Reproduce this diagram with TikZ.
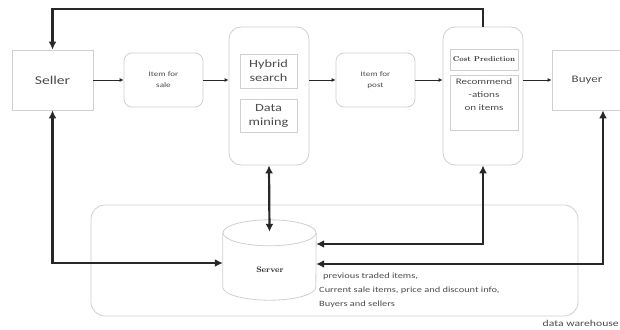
\documentclass[tikz,border=0pt]{standalone}
\usepackage{fontspec}
\newfontfamily\calib[FakeStretch=1.3]{Carlito}
\usepackage{tikz}
\usetikzlibrary{arrows.meta, calc, shapes.geometric}
\definecolor{boxGray}{RGB}{208,208,208}
\definecolor{lineDark}{RGB}{40,40,40}
\definecolor{textGray}{RGB}{75,75,75}

\begin{document}
\begin{tikzpicture}[x=1pt, y=-1pt,
		box/.style={draw=boxGray, thick, inner sep=0pt, align=center, text=textGray, font=\calib},
		panel/.style={box, rounded corners=10pt},
		rim/.style={draw=boxGray, thick},
		flow/.style={draw=lineDark, thick, -{Latex[length=4pt, width=4pt]}},
		feed/.style={draw=lineDark, line width=2.2pt, -{Latex[length=8pt, width=8pt]}},
		link/.style={draw=lineDark, line width=2.2pt, {Latex[length=8pt, width=8pt]}-{Latex[length=8pt, width=8pt]}},
	]
	\useasboundingbox (0,0) rectangle (620,329);
	
	\node[box, minimum width=81pt, minimum height=60pt, font=\calib\fontsize{12}{14}\selectfont] (seller) at (52.5,80) {Seller};
	\node[panel, rounded corners=8pt, minimum width=79pt, minimum height=54pt, font=\calib\fontsize{7}{11}\selectfont] (itemsale) at (163.5,80) {Item for\\sale};
	\node[panel, rounded corners=12pt, minimum width=80pt, minimum height=138pt] (hybridpanel) at (269,96) {};
	\node[box, minimum width=57pt, minimum height=34pt, font=\calib\fontsize{11}{14}\selectfont] (hybrid) at (268.5,71) {Hybrid\\search};
	\node[box, minimum width=57pt, minimum height=33pt, font=\calib\fontsize{11}{14}\selectfont] (mining) at (268.5,115.5) {Data\\mining};
	\node[panel, rounded corners=8pt, minimum width=79pt, minimum height=54pt, font=\calib\fontsize{7}{11}\selectfont] (itempost) at (375.5,80) {Item for\\post};
	\node[panel, rounded corners=12pt, minimum width=80pt, minimum height=138pt] (costpanel) at (483,96) {};
	\node[box, minimum width=68pt, minimum height=21pt, font=\bfseries\fontsize{7}{9}\selectfont, text=black!80] (cost) at (484,59.5) {Cost Prediction};
	\node[box, minimum width=68pt, minimum height=55pt, font=\calib\fontsize{8.5}{13}\selectfont] (recom) at (484,102.5) {Recommend\\-ations\\on items\\[2pt]~};
	\node[box, minimum width=70pt, minimum height=60pt, font=\calib\fontsize{10}{13}\selectfont] (buyer) at (587,80) {Buyer};
	
	\node[panel, rounded corners=14pt, minimum width=487pt, minimum height=111pt] (warehouse) at (334.5,260.5) {};
	\node[minimum width=93pt, minimum height=80pt, inner sep=0pt, fill=white] (server) at (269.5,260) {};
	\draw[rim, fill=white] ($(server.north west)+(0,13)$) -- ($(server.south west)+(0,-13)$)
		arc[start angle=180, end angle=360, x radius=46.5pt, y radius=13pt] -- ($(server.north east)+(0,13)$);
	\draw[rim] ($(server.north)+(0,13)$) ellipse [x radius=46.5pt, y radius=13pt];
	\node[text=black!85, font=\bfseries\fontsize{8}{10}\selectfont] (servername) at (270,270) {Server};
	\node[anchor=north west, align=left, inner sep=0pt, text=textGray, font=\calib\fontsize{8}{14}\selectfont] (serverinfo) at (319,273) {\hspace{4pt}previous traded items,\\Current sale items, price and discount info,\\Buyers and sellers};
	\node[anchor=east, inner sep=0pt, text=textGray, font=\calib\fontsize{9}{10}\selectfont] (dwlabel) at (619,323) {data warehouse};
	
	\coordinate (topline) at (0,9);
	
	\draw[flow] (seller) -- (itemsale);
	\draw[flow] (itemsale.east) -- (itemsale.east -| hybridpanel.west);
	\draw[flow] (hybridpanel.east |- itempost) -- (itempost.west);
	\draw[flow] (itempost.east) -- (itempost.east -| costpanel.west);
	\draw[flow] (costpanel.east |- buyer) -- (buyer.west);
	
	\draw[feed] (costpanel.north) -- (costpanel.north |- topline) -| (seller.north);
	
	\draw[link] (hybridpanel.south) -- ($(server.north)+(0,12)$);
	\draw[link] (seller.south) |- ($(server.west)+(0,3)$);
	\draw[link] (costpanel.south) |- ($(server.east)+(0,-16)$);
	\draw[link] ($(buyer.south)+(16,0)$) |- ($(server.east)+(0,4)$);
\end{tikzpicture}
\end{document}
